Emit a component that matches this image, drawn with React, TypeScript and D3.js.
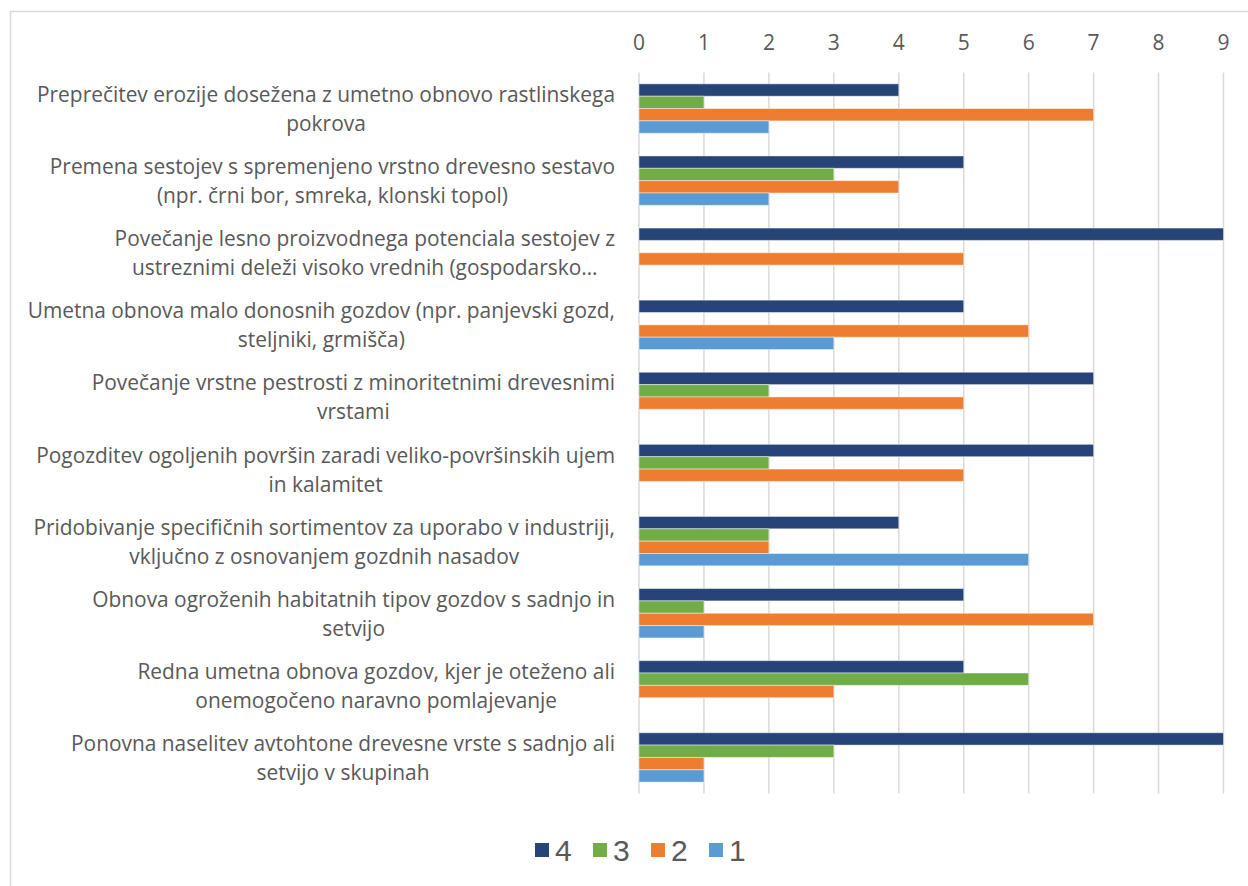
import React, { useEffect, useRef } from "react";
import * as d3 from "d3";

const categories: string[][] = [
  ["Preprečitev erozije dosežena z umetno obnovo rastlinskega", "pokrova"],
  ["Premena sestojev s spremenjeno vrstno drevesno sestavo", "(npr. črni bor, smreka, klonski topol)"],
  ["Povečanje lesno proizvodnega potenciala sestojev z", "ustreznimi deleži visoko vrednih (gospodarsko…"],
  ["Umetna obnova malo donosnih gozdov (npr. panjevski gozd,", "steljniki, grmišča)"],
  ["Povečanje vrstne pestrosti z minoritetnimi drevesnimi", "vrstami"],
  ["Pogozditev ogoljenih površin zaradi veliko-površinskih ujem", "in kalamitet"],
  ["Pridobivanje specifičnih sortimentov za uporabo v industriji,", "vključno z osnovanjem gozdnih nasadov"],
  ["Obnova ogroženih habitatnih tipov gozdov s sadnjo in", "setvijo"],
  ["Redna umetna obnova gozdov, kjer je oteženo ali", "onemogočeno naravno pomlajevanje"],
  ["Ponovna naselitev avtohtone drevesne vrste s sadnjo ali", "setvijo v skupinah"],
];

const seriesNames = ["4", "3", "2", "1"];
const series4 = [4, 5, 9, 5, 7, 7, 4, 5, 5, 9];
const series3 = [1, 3, 0, 0, 2, 2, 2, 1, 6, 3];
const series2 = [7, 4, 5, 6, 5, 5, 2, 7, 3, 1];
const series1 = [2, 2, 0, 3, 0, 0, 6, 1, 0, 1];
const seriesColors = ["#264478", "#70AD47", "#ED7D31", "#5B9BD5"];
const tickValues = [0, 1, 2, 3, 4, 5, 6, 7, 8, 9];

const W = 1248;
const H = 886;

export default function App() {
  const ref = useRef<SVGSVGElement | null>(null);

  useEffect(() => {
    const svg = d3.select(ref.current!);
    svg.selectAll("*").remove();

    const allSeries = [series4, series3, series2, series1];
    const left = 639;
    const right = 1223.5;
    const top = 72.5;
    const bottom = 793.5;

    const x = d3.scaleLinear().domain([0, 9]).range([left, right]);
    const idx = categories.map((_, i) => String(i));
    const y = d3.scaleBand<string>().domain(idx).range([top, bottom]).paddingInner(0.315).paddingOuter(0.1575);
    const ySub = d3.scaleBand<string>().domain(seriesNames).range([0, y.bandwidth()]);

    // frame
    svg.append("rect")
      .attr("x", 10.5).attr("y", 11.5)
      .attr("width", W + 20).attr("height", H + 20)
      .attr("fill", "#fff").attr("stroke", "#D9D9D9").attr("stroke-width", 1.5);

    // gridlines
    svg.append("g").selectAll("line").data(tickValues).join("line")
      .attr("x1", d => x(d)).attr("x2", d => x(d))
      .attr("y1", top).attr("y2", bottom)
      .attr("stroke", "#D9D9D9").attr("stroke-width", 1.5);

    // axis labels
    svg.append("g").selectAll("text").data(tickValues).join("text")
      .attr("x", d => x(d)).attr("y", 42)
      .attr("text-anchor", "middle").attr("dominant-baseline", "central")
      .attr("font-family", "'Open Sans', sans-serif").attr("font-size", 21)
      .attr("fill", "#595959")
      .text(d => String(d));

    // bars
    const gBars = svg.append("g");
    allSeries.forEach((vals, si) => {
      gBars.append("g").selectAll("rect").data(vals).join("rect")
        .attr("x", x(0))
        .attr("y", (_, i) => (y(String(i)) as number) + (ySub(seriesNames[si]) as number))
        .attr("width", d => x(d) - x(0))
        .attr("height", ySub.bandwidth())
        .attr("fill", seriesColors[si])
        .attr("stroke", d => (d > 0 ? "rgba(255,255,255,0.45)" : "none"))
        .attr("stroke-width", 1);
    });

    // category labels
    const gLab = svg.append("g")
      .attr("font-family", "'Open Sans', sans-serif").attr("font-size", 20.9)
      .attr("fill", "#595959");
    const labelRight = 615;
    categories.forEach((lines, i) => {
      const cy = (y(String(i)) as number) + y.bandwidth() / 2;
      const g = gLab.append("g");
      const texts = lines.map((ln, li) =>
        g.append("text")
          .attr("y", cy + (li - (lines.length - 1) / 2) * 29)
          .attr("dominant-baseline", "central")
          .attr("text-anchor", "middle")
          .text(ln)
      );
      const widths = texts.map(t => (t.node() as SVGTextElement).getComputedTextLength());
      const maxW = Math.max(...widths);
      texts.forEach(t => t.attr("x", labelRight - maxW / 2));
    });

    // legend
    const legend = svg.append("g");
    const legX = 535;
    const legStep = 58;
    seriesNames.forEach((name, si) => {
      const gx = legX + si * legStep;
      legend.append("rect")
        .attr("x", gx).attr("y", 843).attr("width", 14).attr("height", 14)
        .attr("fill", seriesColors[si]);
      legend.append("text")
        .attr("x", gx + 20).attr("y", 850)
        .attr("dominant-baseline", "central")
        .attr("font-family", "'Liberation Sans', Arial, sans-serif").attr("font-size", 30)
        .attr("fill", "#595959")
        .text(name);
    });
  }, []);

  return (
    <svg
      ref={ref}
      width={W}
      height={H}
      style={{ position: "absolute", left: 0, top: 0, background: "#fff" }}
    />
  );
}
